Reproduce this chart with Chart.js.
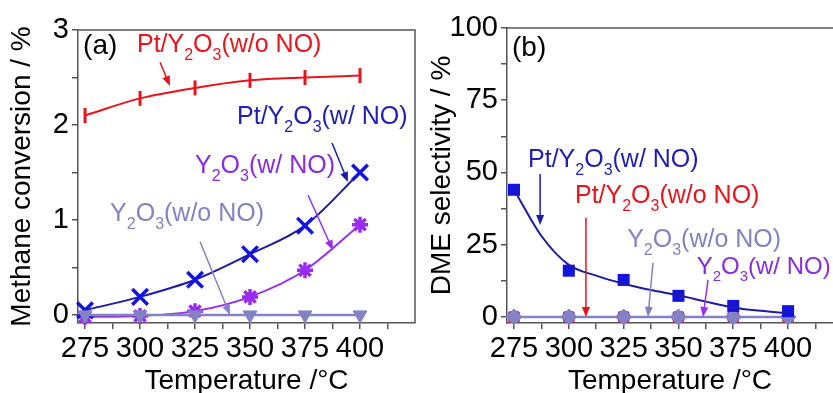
<!DOCTYPE html>
<html>
<head>
<meta charset="utf-8">
<script src="https://cdn.jsdelivr.net/npm/chart.js@4/dist/chart.umd.min.js"></script>
<style>
html, body { margin: 0; padding: 0; background: #fff; }
#wrap { position: relative; width: 833px; height: 393px; overflow: hidden; }
#chartA { position: absolute; left: 0; top: 0; }
#chartB { position: absolute; left: 420px; top: 0; }
</style>
</head>
<body>
<div id="wrap">
<canvas id="chartA" width="420" height="393"></canvas>
<canvas id="chartB" width="413" height="393"></canvas>
</div>
<script>
const FONT = 'Arial, "Liberation Sans", sans-serif';

// temperatures (°C)
const temps = [275, 300, 325, 350, 375, 400];
const xTickValues = [275, 287.5, 300, 312.5, 325, 337.5, 350, 362.5, 375, 387.5, 400, 412.5];
const xLabelValues = [275, 300, 325, 350, 375, 400];

// (a) methane conversion / %
const convPtWoNO = [2.10, 2.28, 2.39, 2.47, 2.50, 2.52];
const convPtWNO = [0.05, 0.19, 0.37, 0.64, 0.94, 1.50];
const convYWNO = [-0.02, -0.01, 0.04, 0.19, 0.47, 0.95];
const convYWoNO = [0, 0, 0, 0, 0, 0];
const yTickValuesA = [0, 0.5, 1, 1.5, 2, 2.5, 3];
const yLabelValuesA = [0, 1, 2, 3];

// (b) DME selectivity / %
const selPtWNO = [44, 16, 12.8, 7.3, 3.8, 2.0];
const fitTemps = [275, 287.5, 300, 312.5, 325, 337.5, 350, 362.5, 375, 387.5, 400];
const selPtWNOFit = [44, 28, 18, 14.3, 11.5, 9.3, 7.5, 5.3, 3.3, 2.1, 1.3];
const selPtWoNO = [0, 0, 0, 0, 0, 0];
const selYWNO = [0, 0, 0, 0, 0, 0];
const selYWoNO = [0, 0, 0, 0, 0, 0];
const yTickValuesB = [0, 12.5, 25, 37.5, 50, 62.5, 75, 87.5, 100];
const yLabelValuesB = [0, 25, 50, 75, 100];

const RED = '#e8141c';
const BLUE = '#1414e0';
const BLUE_LINE = '#1c1ca8';
const BLUE_TEXT = '#1e1eb4';
const PURPLE = '#9a2cf0';
const PURPLE_TEXT = '#8a2be0';
const GRAY = '#8383c4';
const AXIS = '#555';

// text with "_x" subscripts
function drawRich(ctx, text, x, y, size, color) {
    ctx.save();
    ctx.fillStyle = color;
    ctx.textBaseline = 'middle';
    ctx.textAlign = 'left';
    let cx = x;
    for (let i = 0; i < text.length; i++) {
        let ch = text[i];
        if (ch === '_') {
            i++;
            ch = text[i];
            ctx.font = Math.round(size * 0.62) + 'px ' + FONT;
            ctx.fillText(ch, cx, y + size * 0.42);
            cx += ctx.measureText(ch).width;
        } else {
            ctx.font = size + 'px ' + FONT;
            ctx.fillText(ch, cx, y);
            cx += ctx.measureText(ch).width;
        }
    }
    ctx.restore();
}

function drawArrow(ctx, x1, y1, x2, y2, color) {
    const ang = Math.atan2(y2 - y1, x2 - x1);
    const head = 10, half = 4;
    ctx.save();
    ctx.strokeStyle = color;
    ctx.fillStyle = color;
    ctx.lineWidth = 1.5;
    ctx.beginPath();
    ctx.moveTo(x1, y1);
    ctx.lineTo(x2 - Math.cos(ang) * head * 0.8, y2 - Math.sin(ang) * head * 0.8);
    ctx.stroke();
    ctx.beginPath();
    ctx.moveTo(x2, y2);
    ctx.lineTo(x2 - Math.cos(ang) * head - Math.sin(ang) * half, y2 - Math.sin(ang) * head + Math.cos(ang) * half);
    ctx.lineTo(x2 - Math.cos(ang) * head + Math.sin(ang) * half, y2 - Math.sin(ang) * head - Math.cos(ang) * half);
    ctx.closePath();
    ctx.fill();
    ctx.restore();
}

function annotationPlugin(labels, arrows, frameRight) {
    return {
        id: 'notes',
        afterDraw(chart) {
            const ctx = chart.ctx;
            const xs = chart.scales.x, ys = chart.scales.y;
            const area = chart.chartArea;
            ctx.save();
            ctx.strokeStyle = AXIS;
            ctx.lineWidth = 1.5;
            ctx.beginPath();
            ctx.moveTo(area.left, area.top);
            ctx.lineTo(area.right, area.top);
            if (frameRight) ctx.lineTo(area.right, area.bottom);
            ctx.stroke();
            ctx.restore();
            arrows.forEach(a => {
                drawArrow(ctx, xs.getPixelForValue(a.x1), ys.getPixelForValue(a.y1),
                    xs.getPixelForValue(a.x2), ys.getPixelForValue(a.y2), a.color);
            });
            labels.forEach(l => {
                drawRich(ctx, l.text, xs.getPixelForValue(l.x), ys.getPixelForValue(l.y), l.size, l.color);
            });
        }
    };
}

function xScale(max) {
    return {
        type: 'linear',
        min: 271.8,
        max: max,
        afterBuildTicks: (scale) => { scale.ticks = xTickValues.map(v => ({ value: v })); },
        afterFit: (scale) => { scale.height = 70; },
        border: { display: true, color: AXIS, width: 1.5 },
        grid: { drawOnChartArea: false, color: AXIS, tickLength: 6, lineWidth: 1.5 },
        ticks: {
            autoSkip: false,
            maxRotation: 0,
            padding: 3,
            color: '#000',
            font: { size: 29, family: FONT },
            callback: (v) => xLabelValues.includes(v) ? String(v) : ''
        },
        title: {
            display: true,
            text: 'Temperature /°C',
            color: '#000',
            font: { size: 28, family: FONT, lineHeight: 1 },
            padding: { top: 0, bottom: -2 }
        }
    };
}

function yScale(min, max, tickValues, labelValues, width, title) {
    return {
        type: 'linear',
        min: min,
        max: max,
        afterBuildTicks: (scale) => { scale.ticks = tickValues.map(v => ({ value: v })); },
        afterFit: (scale) => { scale.width = width; },
        border: { display: true, color: AXIS, width: 1.5 },
        grid: { drawOnChartArea: false, color: AXIS, tickLength: 6, lineWidth: 1.5 },
        ticks: {
            autoSkip: false,
            padding: 3,
            color: '#000',
            font: { size: 29, family: FONT },
            callback: (v) => labelValues.includes(v) ? String(v) : ''
        },
        title: {
            display: true,
            text: title,
            color: '#000',
            font: { size: 28, family: FONT },
            padding: { top: 5, bottom: 0 }
        }
    };
}

function toXY(xsArr, ysArr) {
    return xsArr.map((x, i) => ({ x: x, y: ysArr[i] }));
}

// ---------- panel (a) ----------
const labelsA = [
    { text: '(a)', x: 274.1, y: 2.83, size: 28, color: '#000' },
    { text: 'Pt/Y_2O_3(w/o NO)', x: 298.6, y: 2.84, size: 25, color: RED },
    { text: 'Pt/Y_2O_3(w/ NO)', x: 344.1, y: 2.08, size: 25, color: BLUE_TEXT },
    { text: 'Y_2O_3(w/ NO)', x: 325, y: 1.57, size: 25, color: PURPLE_TEXT },
    { text: 'Y_2O_3(w/o NO)', x: 286.4, y: 1.06, size: 25, color: GRAY }
];
const arrowsA = [
    { x1: 309.1, y1: 2.66, x2: 313.6, y2: 2.41, color: RED },
    { x1: 387.3, y1: 1.81, x2: 394.5, y2: 1.40, color: BLUE_LINE },
    { x1: 376.4, y1: 1.26, x2: 387.7, y2: 0.68, color: PURPLE },
    { x1: 327.3, y1: 0.77, x2: 340.9, y2: 0.0, color: GRAY }
];

new Chart(document.getElementById('chartA'), {
    type: 'line',
    data: {
        datasets: [
            {
                label: 'Pt/Y2O3(w/o NO)',
                data: toXY(temps, convPtWoNO),
                borderColor: RED, backgroundColor: RED,
                borderWidth: 2, cubicInterpolationMode: 'monotone',
                pointStyle: 'line', pointRotation: 90, pointRadius: 7.5,
                pointBorderWidth: 3, order: 1, clip: false
            },
            {
                label: 'Pt/Y2O3(w/ NO)',
                data: toXY(temps, convPtWNO),
                borderColor: BLUE_LINE, backgroundColor: BLUE,
                pointBorderColor: BLUE,
                borderWidth: 2, cubicInterpolationMode: 'monotone',
                pointStyle: 'crossRot', pointRadius: 11,
                pointBorderWidth: 3.5, order: 2, clip: false
            },
            {
                label: 'Y2O3(w/ NO)',
                data: toXY(temps, convYWNO),
                borderColor: PURPLE, backgroundColor: PURPLE,
                borderWidth: 2, cubicInterpolationMode: 'monotone',
                pointStyle: 'star', pointRadius: 8,
                pointBorderWidth: 3.5, order: 3, clip: false
            },
            {
                label: 'Y2O3(w/o NO)',
                data: toXY(temps, convYWoNO),
                borderColor: GRAY, backgroundColor: GRAY,
                borderWidth: 2.5,
                pointStyle: 'triangle', pointRotation: 180, pointRadius: 8,
                pointBorderWidth: 1, order: 0, clip: false
            }
        ]
    },
    options: {
        responsive: false,
        animation: false,
        layout: { autoPadding: false, padding: { top: 30, right: 5, left: 0, bottom: 0 } },
        plugins: { legend: { display: false }, tooltip: { enabled: false } },
        scales: {
            x: xScale(425),
            y: yScale(-0.085, 3, yTickValuesA, yLabelValuesA, 78, 'Methane conversion / %')
        }
    },
    plugins: [annotationPlugin(labelsA, arrowsA, true)]
});

// ---------- panel (b) ----------
const labelsB = [
    { text: '(b)', x: 274.1, y: 93, size: 28, color: '#000' },
    { text: 'Pt/Y_2O_3(w/ NO)', x: 281.4, y: 54.3, size: 25, color: BLUE_TEXT },
    { text: 'Pt/Y_2O_3(w/o NO)', x: 302.8, y: 41.9, size: 25, color: RED },
    { text: 'Y_2O_3(w/o NO)', x: 326.6, y: 26.6, size: 25, color: GRAY },
    { text: 'Y_2O_3(w/ NO)', x: 358.3, y: 17.3, size: 24, color: PURPLE_TEXT }
];
const arrowsB = [
    { x1: 286.9, y1: 49.5, x2: 286.9, y2: 31.8, color: BLUE_LINE },
    { x1: 307.8, y1: 34.3, x2: 307.8, y2: 0, color: RED },
    { x1: 338.4, y1: 18.7, x2: 336.1, y2: 0, color: GRAY },
    { x1: 363.5, y1: 12.8, x2: 361.2, y2: 0, color: PURPLE }
];

new Chart(document.getElementById('chartB'), {
    type: 'line',
    data: {
        datasets: [
            {
                label: 'Pt/Y2O3(w/ NO)',
                data: toXY(temps, selPtWNO),
                showLine: false,
                borderColor: BLUE, backgroundColor: BLUE,
                pointStyle: 'rect', pointRadius: 8.5, pointBorderWidth: 0,
                order: 1, clip: false
            },
            {
                label: 'fit',
                data: toXY(fitTemps, selPtWNOFit),
                borderColor: BLUE_LINE, borderWidth: 2,
                cubicInterpolationMode: 'monotone',
                pointRadius: 0, order: 0, clip: false
            },
            {
                label: 'Pt/Y2O3(w/o NO)',
                data: toXY(temps, selPtWoNO),
                borderColor: RED, backgroundColor: RED,
                borderWidth: 0, showLine: false,
                pointStyle: 'rectRounded', pointRadius: 7, pointBorderWidth: 0,
                order: 4, clip: false
            },
            {
                label: 'Y2O3(w/ NO)',
                data: toXY(temps, selYWNO),
                borderColor: PURPLE, backgroundColor: PURPLE,
                showLine: false,
                pointStyle: 'star', pointRadius: 7, pointBorderWidth: 2.5,
                order: 3, clip: false
            },
            {
                label: 'Y2O3(w/o NO)',
                data: toXY(temps, selYWoNO),
                borderColor: GRAY, backgroundColor: GRAY,
                borderWidth: 2.5,
                pointStyle: 'rectRot', pointRadius: 8, pointBorderWidth: 1,
                order: 2, clip: false
            }
        ]
    },
    options: {
        responsive: false,
        animation: false,
        layout: { autoPadding: false, padding: { top: 28, right: 0, left: 0, bottom: 0 } },
        plugins: { legend: { display: false }, tooltip: { enabled: false } },
        scales: {
            x: xScale(420.5),
            y: yScale(-2.1, 100, yTickValuesB, yLabelValuesB, 87, 'DME selectivity / %')
        }
    },
    plugins: [annotationPlugin(labelsB, arrowsB, false)]
});
</script>
</body>
</html>
